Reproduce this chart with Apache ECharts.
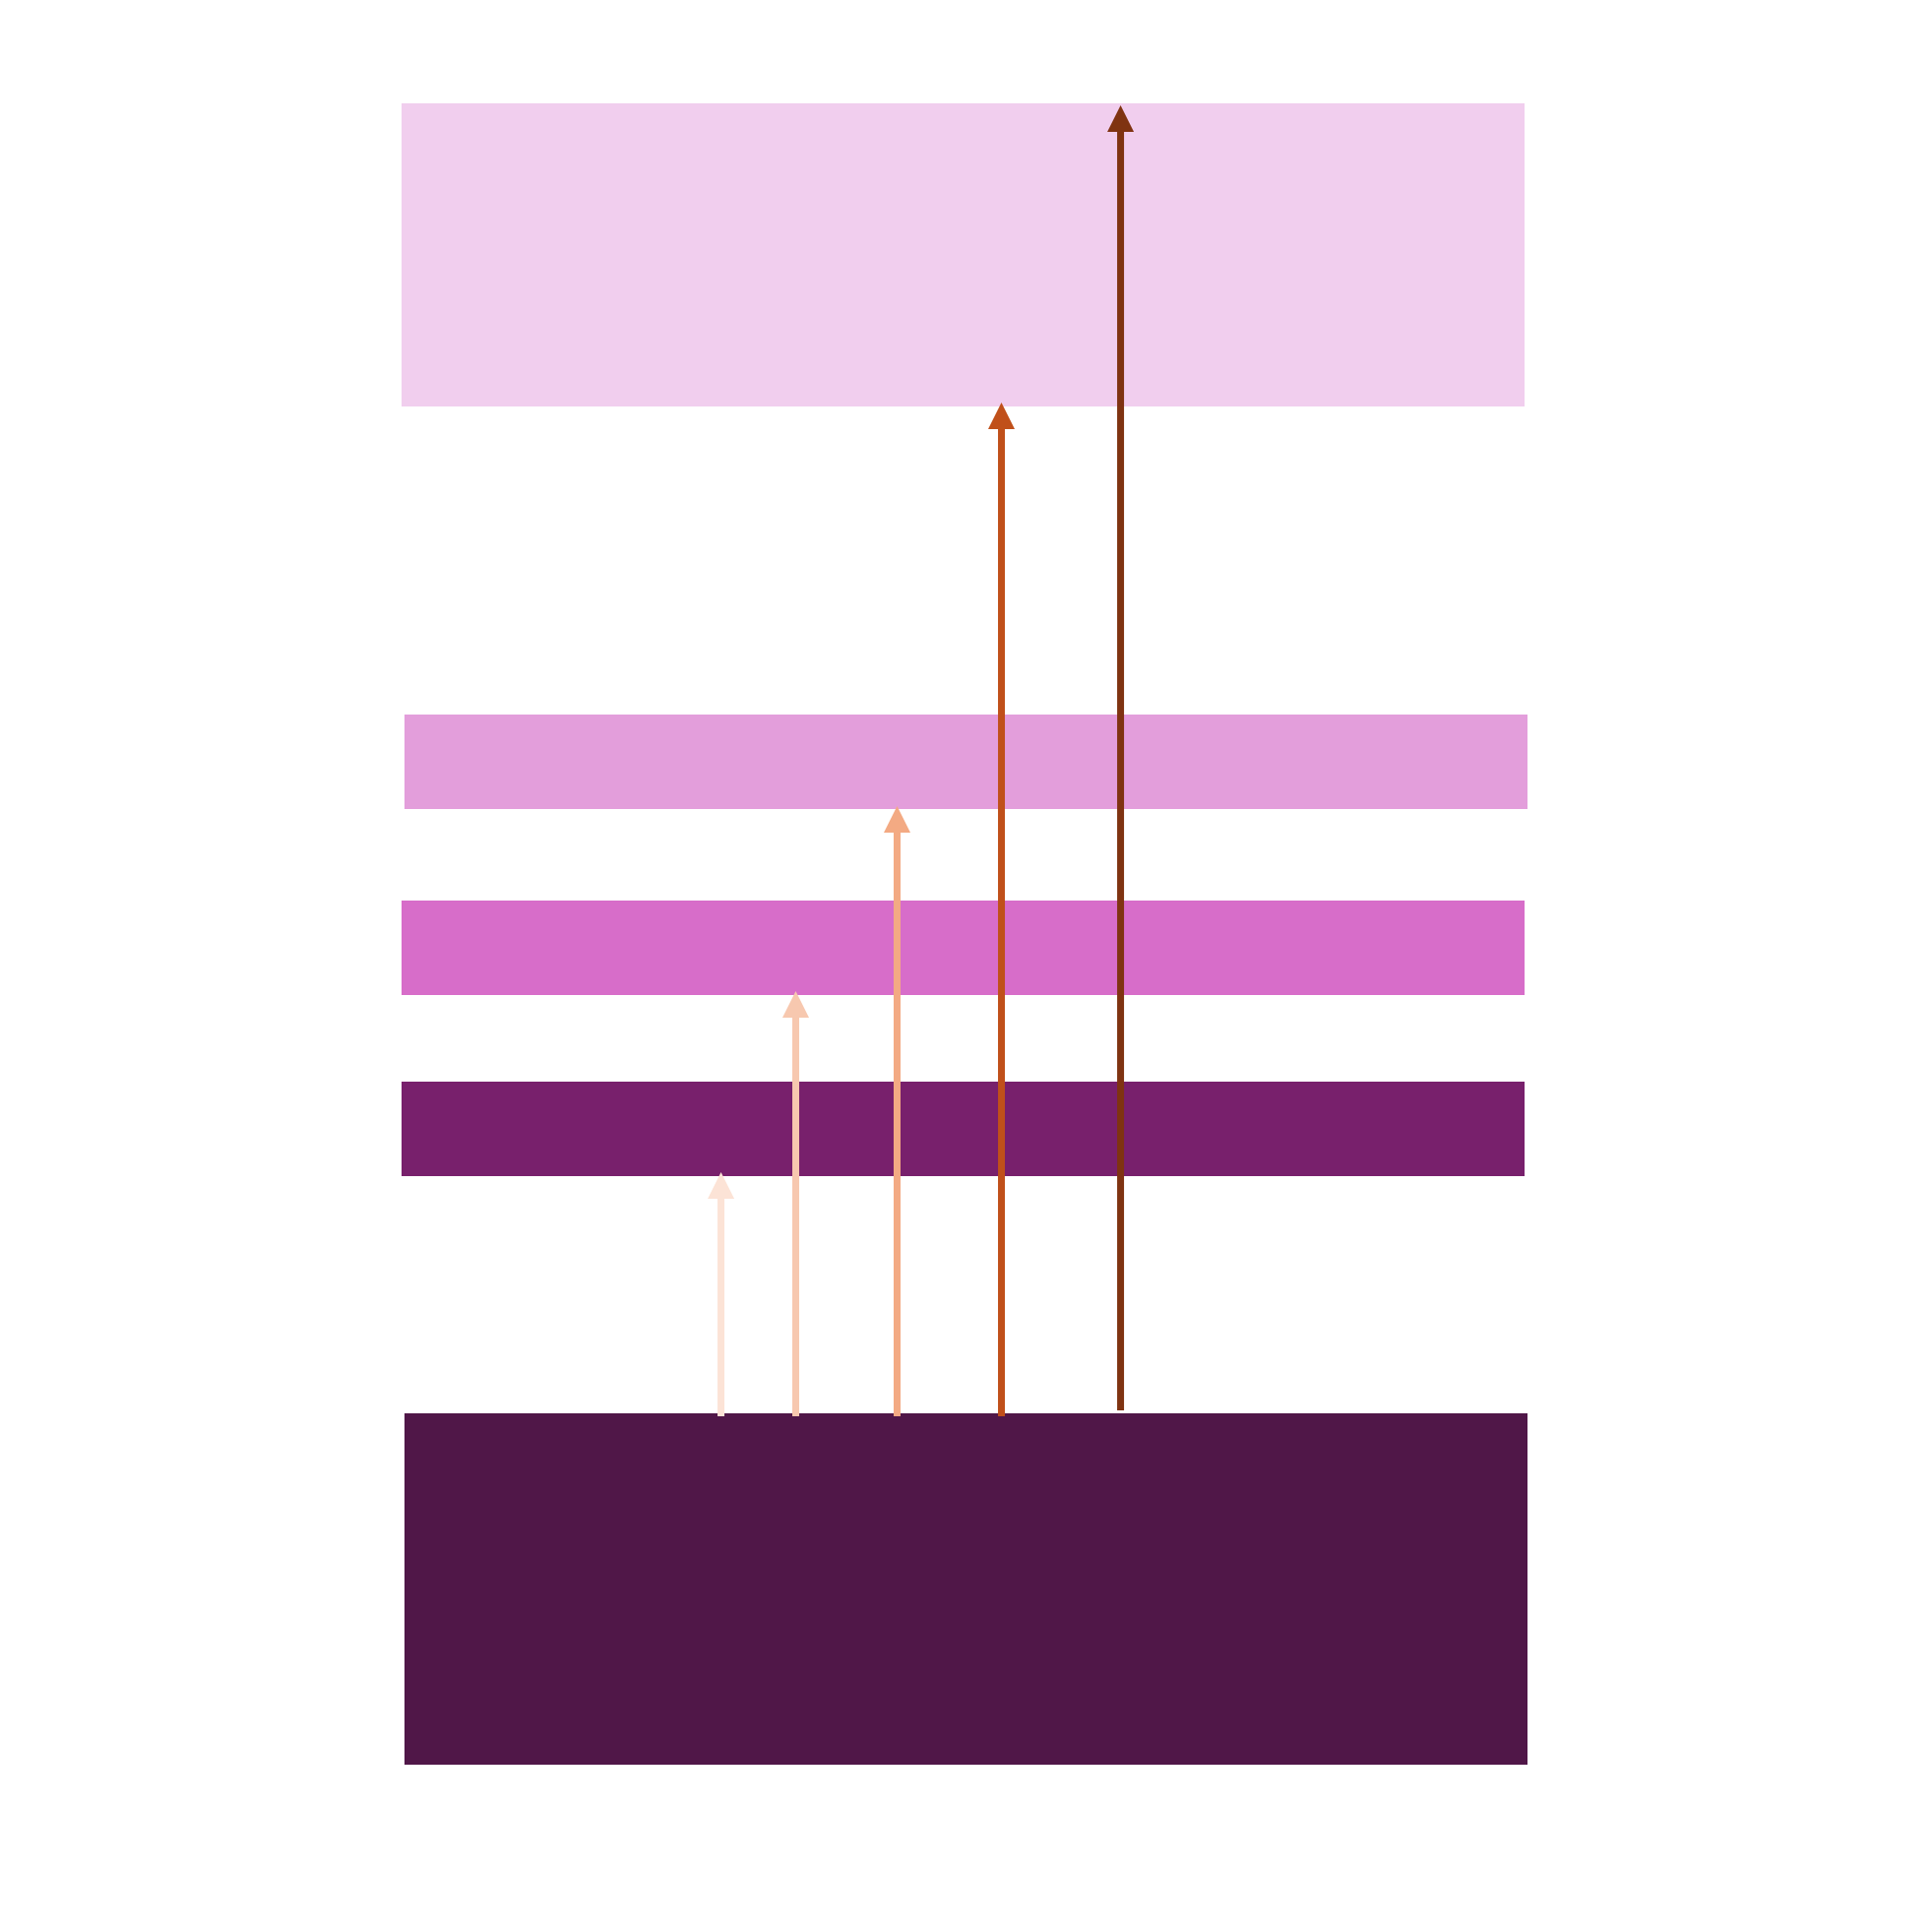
<!DOCTYPE html>
<html>
<head>
<meta charset="utf-8">
<script src="https://cdn.jsdelivr.net/npm/echarts@6/dist/echarts.min.js"></script>
<style>
html,body{margin:0;padding:0;background:#ffffff;}
#chart{width:1963px;height:1963px;}
</style>
</head>
<body>
<div id="chart"></div>
<script>
// Energy bands (levels)
const bandLow   = [10.23, 6.14, 4.25, 2.41, -3.57];
const bandHigh  = [13.31, 7.10, 5.21, 3.37, 0.00];
const bandLeft  = [0.00, 0.26, 0.00, 0.00, 0.26];
const bandRight = [99.74, 100.00, 99.74, 99.74, 100.00];
const bandColors = ['#F1CEEE', '#E39EDB', '#D76DC9', '#78206C', '#501748'];

// Transition arrows
const arrowX     = [28.37, 35.01, 44.01, 53.28, 63.86];
const arrowFrom  = [-0.03, -0.03, -0.03, -0.03, 0.03];
const arrowTo    = [2.45, 4.29, 6.17, 10.27, 13.29];
const arrowColors = ['#FCE3D6', '#F7C8AF', '#F3AA83', '#C0501A', '#7F3311'];

const bandData = bandLow.map((lo, i) => ({
  value: [bandLeft[i], bandRight[i], lo, bandHigh[i]],
  itemStyle: { color: bandColors[i] }
}));
const arrowData = arrowX.map((x, i) => ({
  value: [x, arrowFrom[i], arrowTo[i]],
  itemStyle: { color: arrowColors[i] }
}));

const chart = echarts.init(document.getElementById('chart'), null, { renderer: 'canvas' });
chart.setOption({
  backgroundColor: '#ffffff',
  animation: false,
  grid: { left: 408, right: 411, top: 36, bottom: 127 },
  xAxis: { type: 'value', min: 0, max: 100, show: false },
  yAxis: { type: 'value', min: -4, max: 14, show: false },
  series: [
    {
      type: 'custom',
      name: 'bands',
      data: bandData,
      encode: { x: [0, 1], y: [2, 3] },
      renderItem: function (params, api) {
        const p1 = api.coord([api.value(0), api.value(3)]);
        const p2 = api.coord([api.value(1), api.value(2)]);
        return {
          type: 'rect',
          shape: { x: p1[0], y: p1[1], width: p2[0] - p1[0], height: p2[1] - p1[1] },
          style: { fill: api.visual('color') }
        };
      }
    },
    {
      type: 'custom',
      name: 'transitions',
      data: arrowData,
      encode: { x: 0, y: [1, 2] },
      z: 3,
      renderItem: function (params, api) {
        const a = api.coord([api.value(0), api.value(1)]);
        const b = api.coord([api.value(0), api.value(2)]);
        const color = api.visual('color');
        const head = 27, halfW = 13.5, lw = 7;
        return {
          type: 'group',
          children: [
            {
              type: 'rect',
              shape: { x: a[0] - lw / 2, y: b[1] + head - 1, width: lw, height: a[1] - (b[1] + head - 1) },
              style: { fill: color }
            },
            {
              type: 'polygon',
              shape: { points: [[b[0], b[1]], [b[0] - halfW, b[1] + head], [b[0] + halfW, b[1] + head]] },
              style: { fill: color }
            }
          ]
        };
      }
    }
  ]
});
</script>
</body>
</html>
